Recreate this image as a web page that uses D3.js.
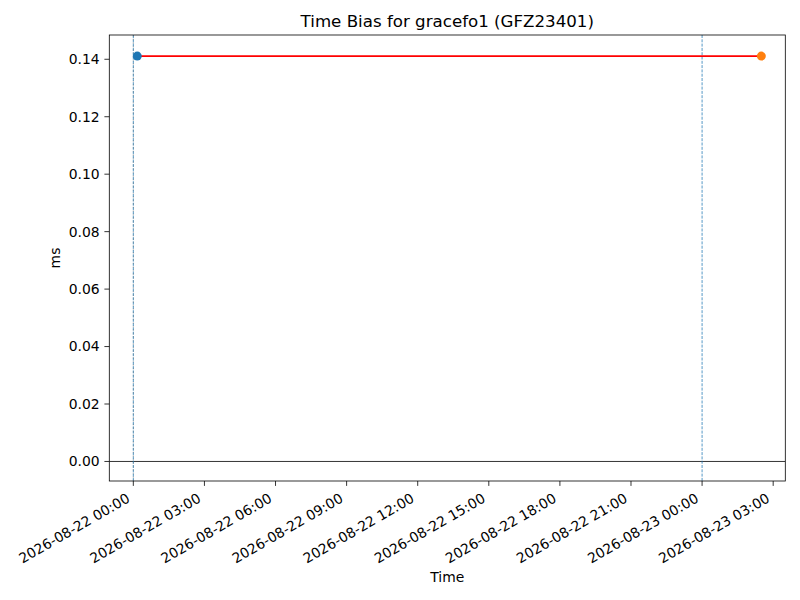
<!DOCTYPE html>
<html>
<head>
<meta charset="utf-8">
<script src="https://cdn.jsdelivr.net/npm/d3@7"></script>
<style>
body{margin:0;background:#fff;}
svg{display:block;font-family:"DejaVu Sans",sans-serif;}
</style>
</head>
<body>
<svg id="chart" width="800" height="600"></svg>
<script>
// Data
const seriesTimes = ["2026-08-22T00:10:00Z", "2026-08-23T02:30:00Z"];
const seriesValues = [0.1411, 0.1411];
const markerColors = ["#1f77b4", "#ff7f0e"];
const vlineTimes = ["2026-08-22T00:00:00Z", "2026-08-23T00:00:00Z"];
const xDomain = ["2026-08-21T22:59:10Z", "2026-08-23T03:30:40Z"];
const yDomain = [-0.0068, 0.14845];
const yTicks = [0.00, 0.02, 0.04, 0.06, 0.08, 0.10, 0.12, 0.14];
const xTicks = ["2026-08-22T00:00:00Z","2026-08-22T03:00:00Z","2026-08-22T06:00:00Z","2026-08-22T09:00:00Z","2026-08-22T12:00:00Z","2026-08-22T15:00:00Z","2026-08-22T18:00:00Z","2026-08-22T21:00:00Z","2026-08-23T00:00:00Z","2026-08-23T03:00:00Z"];
const titleText = "Time Bias for gracefo1 (GFZ23401)";
const xLabel = "Time";
const yLabel = "ms";

const L = 109.3, R = 785.3, T = 35, B = 481;
const svg = d3.select("#chart");
const x = d3.scaleUtc().domain(xDomain.map(d => new Date(d))).range([L, R]);
const y = d3.scaleLinear().domain(yDomain).range([B, T]);
const fmt = d3.utcFormat("%Y-%m-%d %H:%M");
const fs = 13.9;

const clip = svg.append("clipPath").attr("id","clip").append("rect")
  .attr("x", L).attr("y", T).attr("width", R-L).attr("height", B-T);
const plot = svg.append("g").attr("clip-path","url(#clip)");

// horizontal zero line
plot.append("line").attr("x1", L).attr("x2", R).attr("y1", y(0)).attr("y2", y(0))
  .attr("stroke", "#000").attr("stroke-width", 0.8);

// vertical dashed lines
vlineTimes.forEach((t, i) => {
  const xv = x(new Date(t));
  plot.append("line").attr("x1", xv).attr("x2", xv).attr("y1", T).attr("y2", B)
    .attr("stroke", "#1f77b4").attr("stroke-opacity", 0.85).attr("stroke-width", 0.9)
    .attr("stroke-dasharray", "3,1.3");
  if (i === 0) {
    plot.append("line").attr("x1", xv).attr("x2", xv).attr("y1", T).attr("y2", B)
      .attr("stroke", "#555").attr("stroke-opacity", 0.6).attr("stroke-width", 0.5)
      .attr("stroke-dasharray", "2,1.5");
  }
});

// red line
const pts = seriesTimes.map((t, i) => [new Date(t), seriesValues[i]]);
plot.append("path").datum(pts)
  .attr("d", d3.line().x(d => x(d[0])).y(d => y(d[1])))
  .attr("fill", "none").attr("stroke", "red").attr("stroke-width", 1.6);

// markers
pts.forEach((p, i) => {
  plot.append("circle").attr("cx", x(p[0])).attr("cy", y(p[1])).attr("r", 4.5)
    .attr("fill", markerColors[i]);
});

// spines
svg.append("rect").attr("x", L).attr("y", T).attr("width", R-L).attr("height", B-T)
  .attr("fill", "none").attr("stroke", "#000").attr("stroke-width", 0.8);

// y axis
const yAxis = svg.append("g");
yTicks.forEach(v => {
  const yy = y(v);
  yAxis.append("line").attr("x1", L - 4.9).attr("x2", L).attr("y1", yy).attr("y2", yy)
    .attr("stroke", "#000").attr("stroke-width", 0.8);
  yAxis.append("text").attr("x", L - 9.7).attr("y", yy).attr("dy", "0.35em")
    .attr("text-anchor", "end").attr("font-size", fs).attr("fill", "#000")
    .text(d3.format(".2f")(v));
});

// x axis
const xAxis = svg.append("g");
xTicks.forEach(t => {
  const xx = x(new Date(t));
  xAxis.append("line").attr("x1", xx).attr("x2", xx).attr("y1", B).attr("y2", B + 4.9)
    .attr("stroke", "#000").attr("stroke-width", 0.8);
  const ax = xx - 2.5, ay = B + 9.7 + 10.5;
  xAxis.append("text").attr("transform", `translate(${ax},${ay}) rotate(-30)`)
    .attr("text-anchor", "end").attr("font-size", fs).attr("fill", "#000")
    .text(fmt(new Date(t)));
});

// title and labels
svg.append("text").attr("x", (L + R) / 2).attr("y", 26.7).attr("text-anchor", "middle")
  .attr("font-size", 16.67).attr("fill", "#000").text(titleText);
svg.append("text").attr("x", (L + R) / 2).attr("y", 582).attr("text-anchor", "middle")
  .attr("font-size", fs).attr("fill", "#000").text(xLabel);
svg.append("text").attr("transform", `translate(60,${(T + B) / 2}) rotate(-90)`)
  .attr("text-anchor", "middle").attr("font-size", fs).attr("fill", "#000").text(yLabel);
</script>
</body>
</html>
